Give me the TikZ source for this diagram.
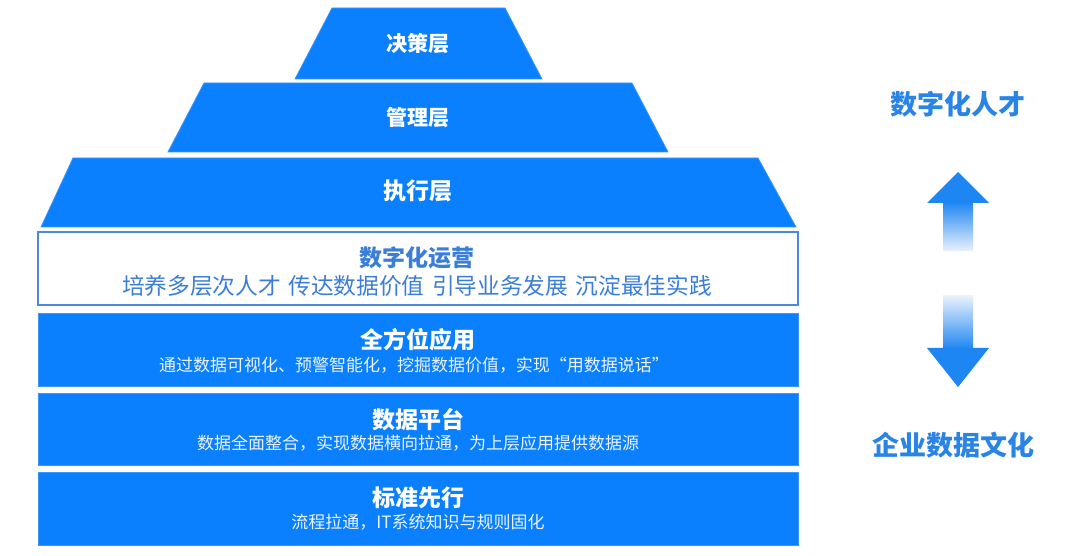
\documentclass[tikz,border=0pt]{standalone}
\usepackage{fontspec}
\setmainfont{Noto Sans CJK SC}
\usetikzlibrary{positioning}
\definecolor{pblue}{HTML}{0A80FF}
\definecolor{pedge}{HTML}{3C95F7}
\definecolor{boxedge}{HTML}{4A8AD8}
\definecolor{tblue}{HTML}{3A7ED8}
\definecolor{rblue}{HTML}{2A84E6}
\definecolor{arrblue}{HTML}{1E86F2}
\definecolor{arrpale}{HTML}{E8F1FC}
\definecolor{subwhite}{HTML}{EAF3FF}
\tikzset{
  layer/.style={fill=pblue, draw=pedge, line width=0.8pt},
  opsbox/.style={fill=white, draw=boxedge, line width=1.5pt},
  toptitle/.style={text=white, font=\fontsize{21}{25}\selectfont\bfseries, inner sep=0pt},
  bigtitle/.style={text=white, font=\fontsize{23}{27}\selectfont\bfseries, inner sep=0pt},
  subline/.style={text=subwhite, font=\fontsize{17}{20}\selectfont, inner sep=0pt},
  sidelabel/.style={text=rblue, font=\fontsize{27}{31}\selectfont\bfseries, inner sep=0pt},
}
\begin{document}
\begin{tikzpicture}[x=1pt,y=-1pt]
\useasboundingbox[fill=white] (0,0) rectangle (1080,556);

% pyramid layers
\draw[layer] (332,8) -- (505,8) -- (542,79) -- (295,79) -- cycle;
\draw[layer] (204,83) -- (632,83) -- (668,152) -- (168,152) -- cycle;
\draw[layer] (73,158) -- (758,158) -- (796,227) -- (41,227) -- cycle;

\node[toptitle] (jc) at (418,44) {决策层};
\node[toptitle] (gl) at (418,118) {管理层};
\node[bigtitle] (zx) at (418,191) {执行层};

% digital operation box
\draw[opsbox] (38,232) rectangle (798,305);
\node[text=tblue, font=\fontsize{23}{27}\selectfont\bfseries, inner sep=0pt] (yy) at (417,258) {数字化运营};
\node[text=tblue, font=\fontsize{22.7}{27}\selectfont, inner sep=0pt] (yyd) at (417,286)
  {培养多层次人才\hspace{0.33em}传达数据价值\hspace{0.33em}引导业务发展\hspace{0.33em}沉淀最佳实践};

% blue base blocks
\draw[layer] (38,313) rectangle (798,386);
\node[bigtitle] (qf) at (418,340) {全方位应用};
\node[subline] (qfd) at (414,365) {通过数据可视化、预警智能化，挖掘数据价值，实现“用数据说话”};

\draw[layer] (38,393) rectangle (798,465);
\node[bigtitle] (pt) at (418,420) {数据平台};
\node[subline] (ptd) at (418,443) {数据全面整合，实现数据横向拉通，为上层应用提供数据源};

\draw[layer] (38,472) rectangle (798,545);
\node[bigtitle] (bz) at (418,498) {标准先行};
\node[subline] (bzd) at (418,522) {流程拉通，IT系统知识与规则固化};

% right side
\node[sidelabel] (rc) at (958,104) {数字化人才};
\node[sidelabel] (wh) at (953,445) {企业数据文化};

% up arrow
\shade[top color=arrblue, bottom color=arrpale] (943,202) rectangle (973,251);
\fill[arrblue] (958,172) -- (989,203) -- (927,203) -- cycle;
% down arrow
\shade[top color=arrpale, bottom color=arrblue] (943,296) rectangle (973,349);
\fill[arrblue] (927,348) -- (989,348) -- (958,387) -- cycle;
\end{tikzpicture}
\end{document}
